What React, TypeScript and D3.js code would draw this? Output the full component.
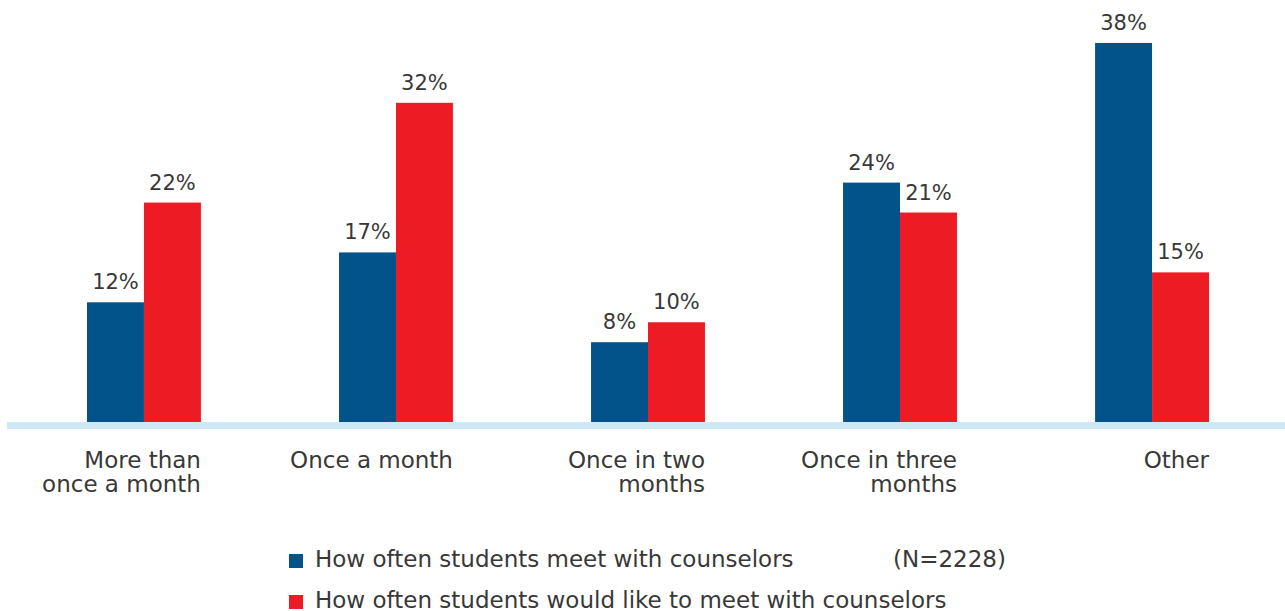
import { useEffect, useRef } from 'react'
import * as d3 from 'd3'

const categories = [
  ['More than', 'once a month'],
  ['Once a month'],
  ['Once in two', 'months'],
  ['Once in three', 'months'],
  ['Other']
]
const categoryKeys = ['more', 'month', 'two', 'three', 'other']
const meetValues = [12, 17, 8, 24, 38]
const wantValues = [22, 32, 10, 21, 15]
const seriesNames = [
  'How often students meet with counselors',
  'How often students would like to meet with counselors'
]
const seriesColors = ['#02538a', '#ed1c24']
const sampleNote = '(N=2228)'

const W = 1285
const H = 611

export default function App() {
  const svgRef = useRef<SVGSVGElement>(null)

  useEffect(() => {
    if (!svgRef.current) return
    const svg = d3.select(svgRef.current)
    svg.selectAll('*').remove()

    const font = "'DejaVu Sans', sans-serif"
    const textColor = '#383838'
    const baseY = 422

    const x0 = d3.scaleBand<string>()
      .domain(categoryKeys)
      .range([87, 1209])
      .paddingInner(0.548)
      .paddingOuter(0)

    const x1 = d3.scaleBand<number>()
      .domain([0, 1])
      .range([0, x0.bandwidth()])

    const y = d3.scaleLinear()
      .domain([0, 40])
      .range([baseY, 23])

    // baseline
    svg.append('rect')
      .attr('x', 7)
      .attr('y', baseY)
      .attr('width', W - 7)
      .attr('height', 7)
      .style('fill', '#cfe8f5')

    const groups = svg.selectAll('.grp')
      .data(categoryKeys)
      .enter()
      .append('g')
      .attr('class', 'grp')
      .attr('transform', d => `translate(${x0(d)},0)`)

    groups.each(function(_, i) {
      const g = d3.select(this)
      const vals = [meetValues[i], wantValues[i]]
      vals.forEach((v, s) => {
        g.append('rect')
          .attr('x', x1(s)!)
          .attr('y', y(v))
          .attr('width', x1.bandwidth())
          .attr('height', baseY - y(v))
          .style('fill', seriesColors[s])

        g.append('text')
          .attr('x', x1(s)! + x1.bandwidth() / 2)
          .attr('y', y(v) - 13)
          .style('text-anchor', 'middle')
          .style('font-family', font)
          .style('font-size', '21px')
          .style('fill', textColor)
          .text(`${v}%`)
      })

      // category label, right aligned to group edge
      categories[i].forEach((line, li) => {
        g.append('text')
          .attr('x', x0.bandwidth())
          .attr('y', 467.5 + li * 24)
          .style('text-anchor', 'end')
          .style('font-family', font)
          .style('font-size', '23px')
          .style('fill', textColor)
          .text(line)
      })
    })

    // legend
    seriesNames.forEach((name, s) => {
      const ly = 554 + s * 41
      svg.append('rect')
        .attr('x', 289)
        .attr('y', ly)
        .attr('width', 14)
        .attr('height', 14)
        .style('fill', seriesColors[s])
      svg.append('text')
        .attr('x', 315)
        .attr('y', ly + 13)
        .style('font-family', font)
        .style('font-size', '23px')
        .style('fill', textColor)
        .text(name)
    })

    svg.append('text')
      .attr('x', 893)
      .attr('y', 567)
      .style('font-family', font)
      .style('font-size', '23px')
      .style('fill', textColor)
      .text(sampleNote)
  }, [])

  return (
    <svg
      ref={svgRef}
      width={W}
      height={H}
      style={{ position: 'absolute', left: 0, top: 0, background: '#fff' }}
    />
  )
}
